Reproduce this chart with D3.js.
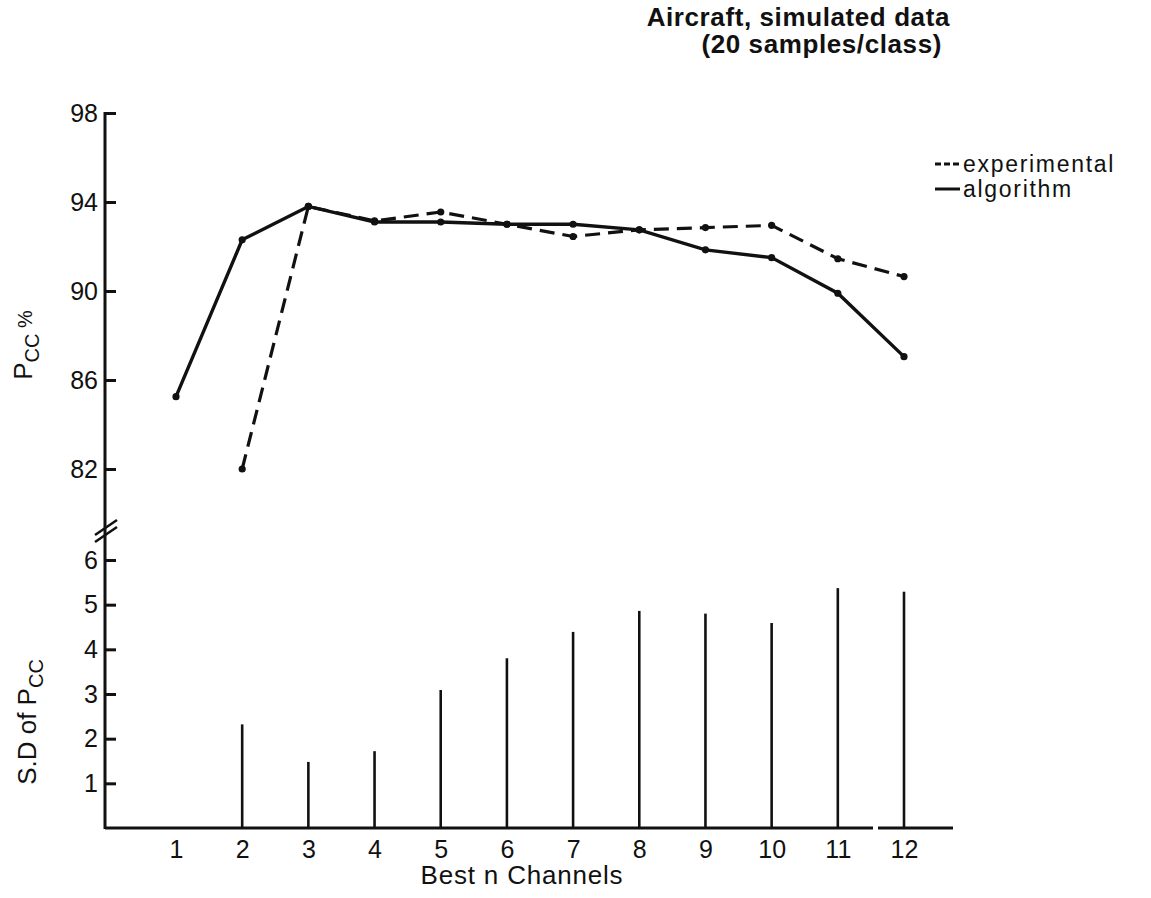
<!DOCTYPE html>
<html>
<head>
<meta charset="utf-8">
<script src="https://cdn.jsdelivr.net/npm/d3@7"></script>
<style>
  body { margin: 0; background: #fff; }
  text { font-family: "Liberation Sans", Arial, sans-serif; fill: #111; }
</style>
</head>
<body>
<svg width="1151" height="898"></svg>
<script>
/* Data */

var channels     = [1, 2, 3, 4, 5, 6, 7, 8, 9, 10, 11, 12];
var algorithm    = [85.25, 92.3, 93.8, 93.1, 93.1, 93.0, 93.0, 92.75, 91.85, 91.5, 89.9, 87.05];
var experimental = [null, 82.0, 93.8, 93.15, 93.55, 93.0, 92.45, 92.75, 92.85, 92.95, 91.45, 90.65];
var sdPcc        = [null, 2.32, 1.48, 1.72, 3.09, 3.80, 4.39, 4.86, 4.80, 4.59, 5.37, 5.29];
var topTicks     = [82, 86, 90, 94, 98];
var bottomTicks  = [1, 2, 3, 4, 5, 6];

/* Setup */

var svg = d3.select("svg");
var ink = "#111";

var axisX = 105,
    baseY = 828;

var x    = d3.scaleLinear().domain([1, 12]).range([176, 904]);
var yTop = d3.scaleLinear().domain([82, 98]).range([469, 113]);
var yBot = d3.scaleLinear().domain([0, 6]).range([baseY, 560]);

/* Axes */

// vertical axis line, runs through both panels
svg.append("line")
  .attr("x1", axisX).attr("x2", axisX)
  .attr("y1", yTop(98) - 1).attr("y2", baseY + 1)
  .attr("stroke", ink).attr("stroke-width", 3);

// horizontal axis, with the little gap between 11 and 12
[[axisX, 873], [878, 953]].forEach((seg) => {
  svg.append("line")
    .attr("x1", seg[0]).attr("x2", seg[1])
    .attr("y1", baseY).attr("y2", baseY)
    .attr("stroke", ink).attr("stroke-width", 3);
});

var drawLeft = (scale, ticks) => {
  var g = svg.append("g")
    .attr("transform", `translate(${axisX},0)`)
    .call(d3.axisLeft(scale)
      .tickValues(ticks)
      .tickFormat(d3.format("d"))
      .tickSize(-11)
      .tickPadding(7));
  g.select(".domain").remove();
  g.selectAll(".tick line").attr("stroke", ink).attr("stroke-width", 3);
  g.selectAll(".tick text")
    .attr("fill", ink)
    .style("font-size", "25px")
    .style("font-family", "'Liberation Sans', Arial, sans-serif");
};

drawLeft(yTop, topTicks);
drawLeft(yBot, bottomTicks);

var gx = svg.append("g")
  .attr("transform", `translate(0,${baseY})`)
  .call(d3.axisBottom(x).tickValues(channels).tickSize(0).tickPadding(12));
gx.select(".domain").remove();
gx.selectAll(".tick text")
  .attr("fill", ink)
  .style("font-size", "25px")
  .style("font-family", "'Liberation Sans', Arial, sans-serif");

// axis break marks
[0, 7].forEach((off) => {
  svg.append("line")
    .attr("x1", axisX - 10).attr("y1", 535 + off)
    .attr("x2", axisX + 12).attr("y2", 520 + off)
    .attr("stroke", ink).attr("stroke-width", 2.5);
});

/* Axis titles */

var yTitle = (cx, cy, parts) => {
  var t = svg.append("text")
    .attr("transform", `translate(${cx},${cy}) rotate(-90)`)
    .attr("text-anchor", "middle")
    .style("font-size", "26px");
  parts.forEach((p) => {
    t.append("tspan")
      .attr("dy", p.dy || 0)
      .style("font-size", p.size || "26px")
      .text(p.t);
  });
};

yTitle(32, 345, [
  {t: "P"},
  {t: "CC", dy: 7, size: "20px"},
  {t: " %", dy: -7, size: "20px"}
]);

yTitle(36, 722, [
  {t: "S.D of P"},
  {t: "CC", dy: 7, size: "20px"}
]);

svg.append("text")
  .attr("x", 522).attr("y", 884)
  .attr("text-anchor", "middle")
  .style("font-size", "26px")
  .style("letter-spacing", "0.8px")
  .text("Best n Channels");

/* Top panel: Pcc lines */

var pts = (vals) => channels.map((c, i) => ({c: c, v: vals[i]}));

var line = d3.line()
  .defined((d) => d.v != null)
  .x((d) => x(d.c))
  .y((d) => yTop(d.v));

svg.append("path")
  .datum(pts(experimental))
  .attr("d", line)
  .attr("fill", "none")
  .attr("stroke", ink)
  .attr("stroke-width", 3.2)
  .attr("stroke-dasharray", "15,8");

svg.append("path")
  .datum(pts(algorithm))
  .attr("d", line)
  .attr("fill", "none")
  .attr("stroke", ink)
  .attr("stroke-width", 3.4);

[experimental, algorithm].forEach((vals) => {
  svg.selectAll(null)
    .data(pts(vals).filter((d) => d.v != null))
    .enter().append("circle")
    .attr("cx", (d) => x(d.c))
    .attr("cy", (d) => yTop(d.v))
    .attr("r", 3.6)
    .attr("fill", ink);
});

/* Bottom panel: S.D stems */

svg.selectAll(".stem")
  .data(pts(sdPcc).filter((d) => d.v != null))
  .enter().append("line")
  .classed("stem", true)
  .attr("x1", (d) => x(d.c)).attr("x2", (d) => x(d.c))
  .attr("y1", baseY)
  .attr("y2", (d) => yBot(d.v))
  .attr("stroke", ink)
  .attr("stroke-width", 2.6);

/* Legend */

var legend = [
  {label: "experimental", dash: "6,3", y: 164},
  {label: "algorithm",    dash: null,  y: 189}
];

legend.forEach((d) => {
  svg.append("line")
    .attr("x1", 935).attr("x2", 960)
    .attr("y1", d.y).attr("y2", d.y)
    .attr("stroke", ink).attr("stroke-width", 3)
    .attr("stroke-dasharray", d.dash);
  svg.append("text")
    .attr("x", 963).attr("y", d.y + 8)
    .style("font-size", "23px")
    .style("letter-spacing", "1.7px")
    .text(d.label);
});

/* Title */

svg.append("text")
  .attr("x", 950).attr("y", 26)
  .attr("text-anchor", "end")
  .style("font-size", "26px")
  .style("font-weight", "bold")
  .style("letter-spacing", "0.6px")
  .text("Aircraft, simulated data");

svg.append("text")
  .attr("x", 942).attr("y", 53)
  .attr("text-anchor", "end")
  .style("font-size", "26px")
  .style("font-weight", "bold")
  .style("letter-spacing", "0.6px")
  .text("(20 samples/class)");
</script>
</body>
</html>
